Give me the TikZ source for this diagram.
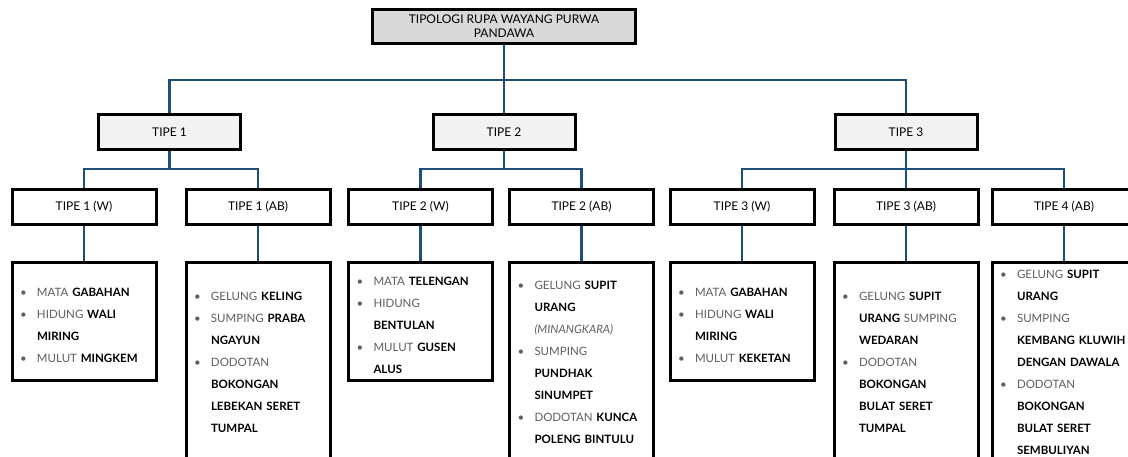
\documentclass[tikz,border=0pt]{standalone}
\usepackage{fontspec}
\setmainfont{Lato}
\usetikzlibrary{positioning}
\definecolor{linkblue}{RGB}{31,78,121}
\definecolor{rootgray}{RGB}{217,217,217}
\definecolor{tipegray}{RGB}{242,242,242}
\definecolor{txtgray}{RGB}{95,95,95}
\newcommand{\bul}{\makebox[17pt][l]{\textbullet}}
\newcommand{\ind}{\hspace*{17pt}}
\newcommand{\kw}[1]{\mbox{\bfseries\color{black}#1}}

\begin{document}
\begin{tikzpicture}[x=1pt, y=1pt, on grid,
        plainbox/.style={draw, line width=3pt, inner sep=0pt, text=black, font=\fontsize{12}{14}\selectfont},
        rootbox/.style={plainbox, fill=rootgray, minimum width=263pt, minimum height=34pt, align=center},
        tipebox/.style={plainbox, fill=tipegray, minimum width=142pt, minimum height=35pt},
        subbox/.style={plainbox, fill=white, minimum width=144pt, minimum height=35pt},
        leaf/.style={plainbox, fill=white, anchor=north, text width=128pt, inner xsep=8pt, align=left, text=txtgray,
            font=\fontsize{11.5}{22}\selectfont},
        leafshort/.style={leaf, minimum height=118pt, execute at begin node={\rule{0pt}{17pt}}},
        leaftall/.style={leaf, minimum height=200pt},
        link/.style={draw=linkblue, line width=2.8pt}]
        \useasboundingbox (0,0) rectangle (1128,-457);
        \clip (0,0) rectangle (1128,-457);

        \node[rootbox] (root) at (504,-26.5) {TIPOLOGI RUPA WAYANG PURWA\\PANDAWA};
        \node[tipebox, below=105.5pt of root] (tipe2) {TIPE 2};
        \node[tipebox, left=334.5pt of tipe2] (tipe1) {TIPE 1};
        \node[tipebox, right=402pt of tipe2] (tipe3) {TIPE 3};

        \node[subbox, below left=75pt and 85.5pt of tipe1] (w1) {TIPE 1 (W)};
        \node[subbox, below right=75pt and 88.5pt of tipe1] (ab1) {TIPE 1 (AB)};
        \node[subbox, below left=75pt and 83.5pt of tipe2] (w2) {TIPE 2 (W)};
        \node[subbox, below right=75pt and 77.5pt of tipe2] (ab2) {TIPE 2 (AB)};
        \node[subbox, below left=75pt and 164pt of tipe3] (w3) {TIPE 3 (W)};
        \node[subbox, below=75pt of tipe3] (ab3) {TIPE 3 (AB)};
        \node[subbox, below right=75pt and 158pt of tipe3] (ab4) {TIPE 4 (AB)};

        \node[leafshort] (dw1) at ([yshift=-35pt]w1.south) {\bul MATA \kw{GABAHAN}\\
            \bul HIDUNG \kw{WALI}\\ \ind\kw{MIRING}\\
            \bul MULUT \kw{MINGKEM}};
        \node[leaftall] (dab1) at ([yshift=-35pt]ab1.south) {\bul GELUNG \kw{KELING}\\
            \bul SUMPING \kw{PRABA}\\ \ind\kw{NGAYUN}\\
            \bul DODOTAN\\ \ind\kw{BOKONGAN}\\ \ind\kw{LEBEKAN SERET}\\ \ind\kw{TUMPAL}};
        \node[leafshort] (dw2) at ([yshift=-35pt]w2.south) {\bul MATA \kw{TELENGAN}\\
            \bul HIDUNG\\ \ind\kw{BENTULAN}\\
            \bul MULUT \kw{GUSEN}\\ \ind\kw{ALUS}};
        \node[leaftall] (dab2) at ([yshift=-35pt]ab2.south) {\bul GELUNG \kw{SUPIT}\\ \ind\kw{URANG}\\ \ind\textit{(MINANGKARA)}\\
            \bul SUMPING\\ \ind\kw{PUNDHAK}\\ \ind\kw{SINUMPET}\\
            \bul DODOTAN \kw{KUNCA}\\ \ind\kw{POLENG BINTULU}};
        \node[leafshort] (dw3) at ([yshift=-35pt]w3.south) {\bul MATA \kw{GABAHAN}\\
            \bul HIDUNG \kw{WALI}\\ \ind\kw{MIRING}\\
            \bul MULUT \kw{KEKETAN}};
        \node[leaftall] (dab3) at ([yshift=-35pt]ab3.south) {\bul GELUNG \kw{SUPIT}\\ \ind\kw{URANG} SUMPING\\ \ind\kw{WEDARAN}\\
            \bul DODOTAN\\ \ind\kw{BOKONGAN}\\ \ind\kw{BULAT SERET}\\ \ind\kw{TUMPAL}};
        \node[leaftall] (dab4) at ([yshift=-35pt]ab4.south) {\bul GELUNG \kw{SUPIT}\\ \ind\kw{URANG}\\
            \bul SUMPING\\ \ind\kw{KEMBANG KLUWIH}\\ \ind\kw{DENGAN DAWALA}\\
            \bul DODOTAN\\ \ind\kw{BOKONGAN}\\ \ind\kw{BULAT SERET}\\ \ind\kw{SEMBULIYAN}};

        % junctions of the tree
        \coordinate[below=53.5pt of root] (j0);
        \coordinate[below=37pt of tipe1] (j1);
        \coordinate[below=37pt of tipe2] (j2);
        \coordinate[below=37pt of tipe3] (j3);

        \draw[link] (tipe1.north) |- (j0) -| (tipe3.north);
        \draw[link] (root) -- (tipe2);
        \draw[link] (w1.north) |- (j1) -| (ab1.north);
        \draw[link] (tipe1) -- (j1);
        \draw[link] (w2.north) |- (j2) -| (ab2.north);
        \draw[link] (tipe2) -- (j2);
        \draw[link] (w3.north) |- (j3) -| (ab4.north);
        \draw[link] (tipe3) -- (ab3);
        \foreach \n in {w1,ab1,w2,ab2,w3,ab3,ab4}
            \draw[link] (\n) -- (d\n);
\end{tikzpicture}
\end{document}
